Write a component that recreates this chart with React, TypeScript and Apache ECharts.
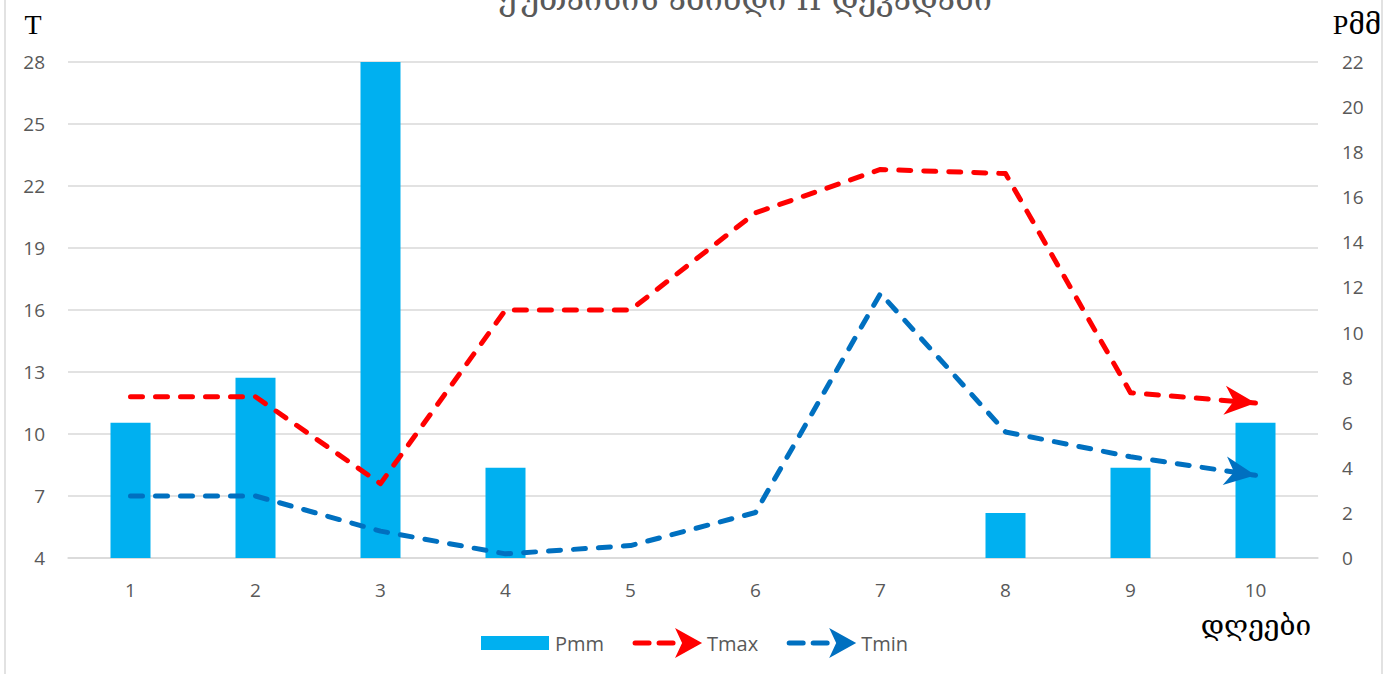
import React, { useEffect, useRef } from 'react';
import * as echarts from 'echarts';

const days = ['1', '2', '3', '4', '5', '6', '7', '8', '9', '10'];
const pmm = [6, 8, 22, 4, 0, 0, 0, 2, 4, 6];
const tmax = [11.8, 11.8, 7.6, 16.0, 16.0, 20.7, 22.8, 22.6, 12.0, 11.5];
const tmin = [7.0, 7.0, 5.3, 4.2, 4.6, 6.2, 16.8, 10.1, 8.9, 8.0];
const tTicks = [4, 7, 10, 13, 16, 19, 22, 25, 28];
const pMin = 0;
const pMax = 22;
const pStep = 2;

const titleText = 'ქუთაისის ამინდი II დეკადაში';
const leftName = 'T';
const rightName = 'Pმმ';
const xName = 'დღეები';

const RED = '#FF0000';
const BLUE = '#0070C0';
const CYAN = '#00B0F0';
const GRAY = '#595959';

const arrowPath = 'path://M14,0 L28,30 L14,21 L0,30 Z';
const pmmIcon = 'path://M0,0 M70,30 M1,8 L69,8 L69,22 L1,22 Z';
const lineIcon =
  'path://M0,0 M70,30 ' +
  'M3,12.5 L17,12.5 A2.5,2.5 0 0 1 17,17.5 L3,17.5 A2.5,2.5 0 0 1 3,12.5 Z ' +
  'M27,12.5 L41,12.5 A2.5,2.5 0 0 1 41,17.5 L27,17.5 A2.5,2.5 0 0 1 27,12.5 Z ' +
  'M70,15 L43,0 L50,15 L43,30 Z';

function withArrow(values: number[], rotate: number, offset: number[], color: string) {
  return values.map((v, i) =>
    i === values.length - 1
      ? {
          value: v,
          symbol: arrowPath,
          symbolSize: [29, 31],
          symbolRotate: rotate,
          symbolOffset: offset,
          itemStyle: { color },
        }
      : v
  );
}

export default function App() {
  const ref = useRef<HTMLDivElement>(null);
  useEffect(() => {
    if (!ref.current) return;
    const chart = echarts.init(ref.current, null, { renderer: 'svg' });
    const sans = '"Open Sans", "Noto Sans", sans-serif';
    const geo = '"DejaVu Serif", "DejaVu Sans", serif';
    chart.setOption({
      animation: false,
      backgroundColor: '#ffffff',
      grid: { left: 68, right: 77, top: 62, bottom: 116, containLabel: false },
      legend: {
        left: 475,
        top: 623,
        itemWidth: 70,
        itemHeight: 30,
        itemGap: 28,
        itemStyle: { borderWidth: 0 },
        textStyle: { fontSize: 20, color: GRAY, fontFamily: sans },
        data: [
          { name: 'Pmm', icon: pmmIcon },
          { name: 'Tmax', icon: lineIcon },
          { name: 'Tmin', icon: lineIcon },
        ],
      },
      xAxis: {
        type: 'category',
        data: days,
        boundaryGap: true,
        axisLine: { show: true, lineStyle: { color: '#d9d9d9', width: 1.5 } },
        axisTick: { show: false },
        axisLabel: { color: GRAY, fontSize: 19, fontFamily: sans, margin: 22 },
      },
      yAxis: [
        {
          type: 'value',
          min: 4,
          max: 28,
          axisLine: { show: false },
          axisTick: { show: false, customValues: tTicks },
          axisLabel: {
            color: GRAY,
            fontSize: 19,
            fontFamily: sans,
            margin: 23,
            customValues: tTicks,
          },
          splitLine: { show: true, lineStyle: { color: '#d9d9d9', width: 1.5 } },
        },
        {
          type: 'value',
          min: pMin,
          max: pMax,
          interval: pStep,
          position: 'right',
          axisLine: { show: false },
          axisTick: { show: false },
          axisLabel: { color: GRAY, fontSize: 19, fontFamily: sans, margin: 24 },
          splitLine: { show: false },
        },
      ],
      series: [
        {
          name: 'Pmm',
          type: 'bar',
          yAxisIndex: 1,
          data: pmm,
          barWidth: 40,
          itemStyle: { color: CYAN },
        },
        {
          name: 'Tmax',
          type: 'line',
          yAxisIndex: 0,
          symbol: 'none',
          color: RED,
          lineStyle: { color: RED, width: 5, type: [12, 13], cap: 'round', join: 'round' },
          data: withArrow(tmax, -95, [-15.4, -1.4], RED),
          z: 3,
        },
        {
          name: 'Tmin',
          type: 'line',
          yAxisIndex: 0,
          symbol: 'none',
          color: BLUE,
          lineStyle: { color: BLUE, width: 5, type: [12, 13], cap: 'round', join: 'round' },
          data: withArrow(tmin, -98.6, [-15.3, -2.3], BLUE),
          z: 3,
        },
      ],
      graphic: [
        {
          type: 'rect',
          shape: { x: 5, y: -10, width: 1377, height: 700 },
          style: { fill: 'none', stroke: '#d9d9d9', lineWidth: 1.5 },
          silent: true,
          z: -1,
        },
        {
          type: 'text',
          x: 745,
          y: 15,
          style: {
            text: titleText,
            fill: GRAY,
            font: `32px ${geo}`,
            textAlign: 'center',
            textVerticalAlign: 'bottom',
          },
        },
        {
          type: 'text',
          x: 33,
          y: 24,
          style: {
            text: leftName,
            fill: '#000',
            font: '28px "Liberation Serif", serif',
            textAlign: 'center',
            textVerticalAlign: 'middle',
          },
        },
        {
          type: 'text',
          x: 1357,
          y: 24,
          style: {
            text: rightName,
            fill: '#000',
            font: `28px "Liberation Serif", ${geo}`,
            textAlign: 'center',
            textVerticalAlign: 'middle',
          },
        },
        {
          type: 'text',
          x: 1256,
          y: 625,
          style: {
            text: xName,
            fill: '#000',
            font: `28px ${geo}`,
            textAlign: 'center',
            textVerticalAlign: 'middle',
          },
        },
      ],
    });
    return () => chart.dispose();
  }, []);
  return (
    <div
      ref={ref}
      style={{ position: 'absolute', left: 0, top: 0, width: 1395, height: 674 }}
    />
  );
}
